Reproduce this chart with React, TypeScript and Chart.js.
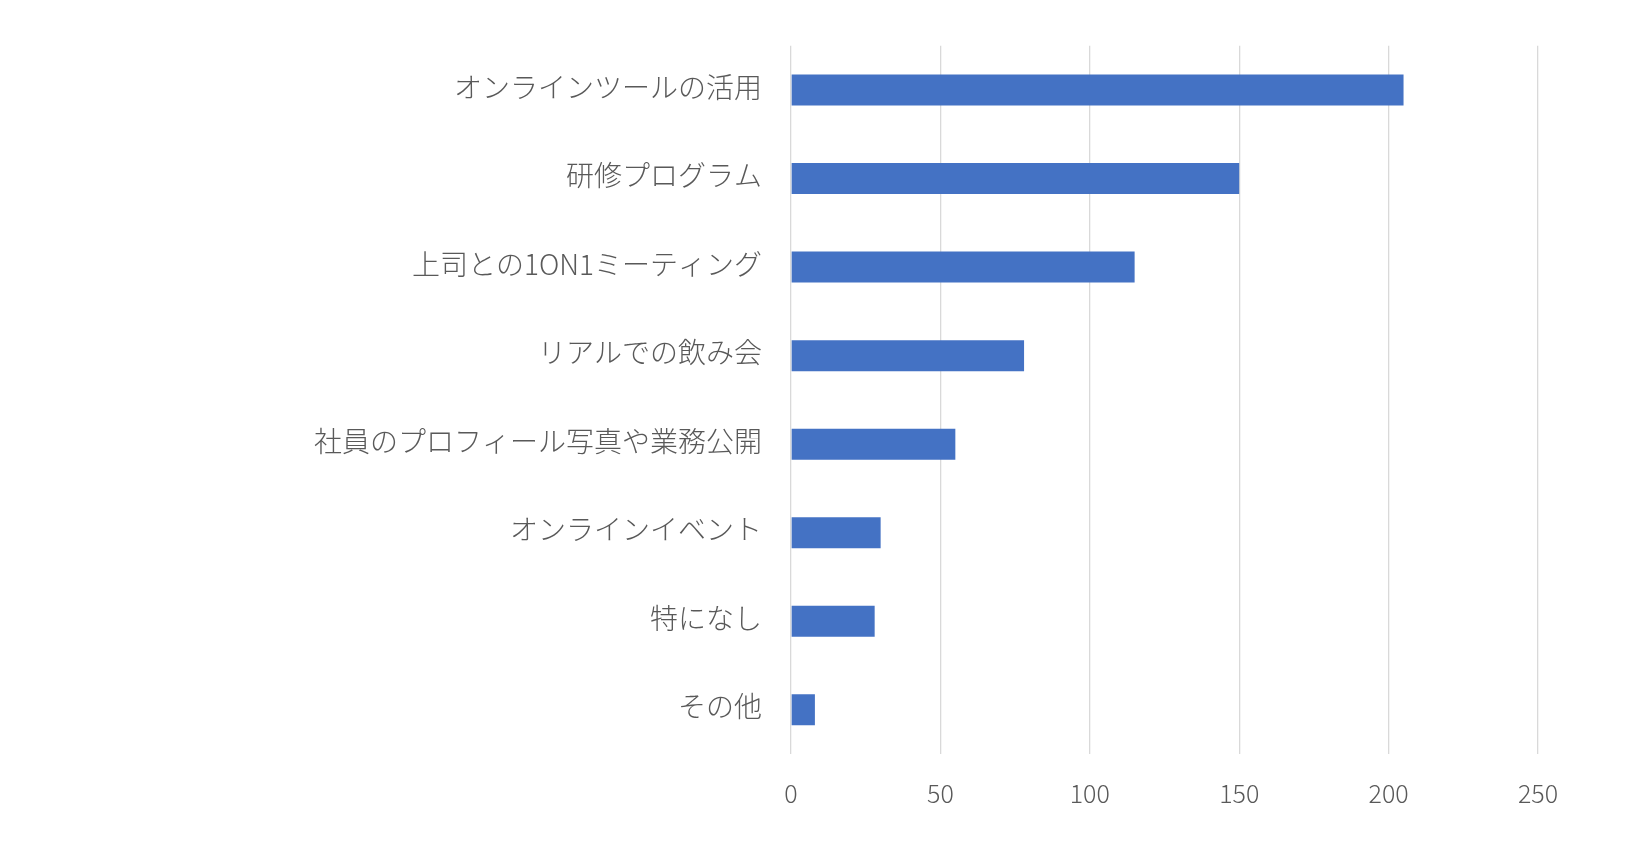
import { useEffect, useRef } from "react";
import { Chart } from "chart.js/auto";

const categories = [
  "オンラインツールの活用",
  "研修プログラム",
  "上司との1ON1ミーティング",
  "リアルでの飲み会",
  "社員のプロフィール写真や業務公開",
  "オンラインイベント",
  "特になし",
  "その他",
];
const counts = [205, 150, 115, 78, 55, 30, 28, 8];
const xTicks = [0, 50, 100, 150, 200, 250];

const FONT = "'Noto Sans CJK JP', 'Noto Sans', sans-serif";

export default function App() {
  const canvasRef = useRef<HTMLCanvasElement>(null);

  useEffect(() => {
    const canvas = canvasRef.current;
    if (!canvas) return;
    Chart.getChart(canvas)?.destroy();

    const chart = new Chart(canvas, {
      type: "bar",
      data: {
        labels: categories,
        datasets: [
          {
            label: "件数",
            data: counts,
            backgroundColor: "#4472C4",
            barPercentage: 0.35,
            categoryPercentage: 1,
          },
        ],
      },
      options: {
        indexAxis: "y",
        animation: false,
        responsive: false,
        devicePixelRatio: 1,
        layout: { padding: { top: 43, right: 96, bottom: 0, left: 0 } },
        plugins: { legend: { display: false }, tooltip: { enabled: false } },
        scales: {
          x: {
            min: 0,
            max: 250,
            afterBuildTicks: (scale: any) => {
              scale.ticks = xTicks.map((v) => ({ value: v }));
            },
            afterFit: (scale: any) => {
              scale.height = 92;
            },
            grid: { color: "#D9D9D9", lineWidth: 1.3, drawTicks: false },
            border: { display: false },
            ticks: {
              color: "#595959",
              font: { family: FONT, size: 25, weight: "300" },
              padding: 24,
            },
          },
          y: {
            afterFit: (scale: any) => {
              scale.width = 791;
            },
            grid: { display: false, drawTicks: false },
            border: { display: false },
            ticks: {
              color: "#595959",
              font: { family: FONT, size: 28, weight: "300" },
              padding: 29,
              labelOffset: -3,
            },
          },
        },
      },
    });

    return () => chart.destroy();
  }, []);

  return (
    <div style={{ position: "fixed", left: 0, top: 0, width: 1634, height: 846, background: "#fff" }}>
      <canvas ref={canvasRef} width={1634} height={846} />
    </div>
  );
}
